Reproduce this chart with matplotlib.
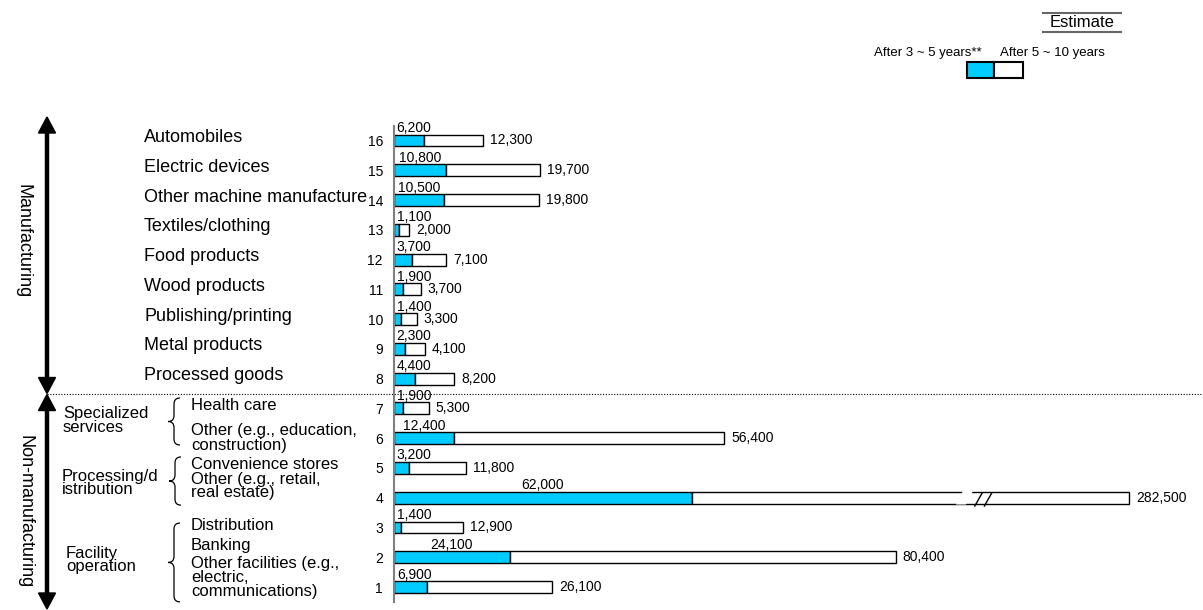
import numpy as np
import matplotlib
matplotlib.use('Agg')
import matplotlib.pyplot as plt
from matplotlib.path import Path
from matplotlib.patches import PathPatch, Rectangle, Polygon

plt.rcParams['font.family'] = ['Liberation Sans', 'DejaVu Sans']

# row numbers, top to bottom
row_ids = [16, 15, 14, 13, 12, 11, 10, 9, 8, 7, 6, 5, 4, 3, 2, 1]
# after 3 ~ 5 years (blue) and after 5 ~ 10 years (white, stacked on the blue)
near_term = [6200, 10800, 10500, 1100, 3700, 1900, 1400, 2300, 4400,
             1900, 12400, 3200, 62000, 1400, 24100, 6900]
long_term = [12300, 19700, 19800, 2000, 7100, 3700, 3300, 4100, 8200,
             5300, 56400, 11800, 282500, 12900, 80400, 26100]

manufacturing = ['Automobiles', 'Electric devices', 'Other machine manufacture',
                 'Textiles/clothing', 'Food products', 'Wood products',
                 'Publishing/printing', 'Metal products', 'Processed goods']

W, H = 1203, 610
BLUE = '#00CCFF'

# broken x axis: linear up to BREAK, squeezed after it
BREAK = 125000
SQUEEZE = 0.128
PX_PER_UNIT = 0.0048


def fwd(x):
    x = np.asarray(x, dtype=float)
    return np.where(x <= BREAK, x, BREAK + (x - BREAK) * SQUEEZE)


def inv(y):
    y = np.asarray(y, dtype=float)
    return np.where(y <= BREAK, y, BREAK + (y - BREAK) / SQUEEZE)


fig = plt.figure(figsize=(W / 100, H / 100), dpi=100)

# overlay in pixel coordinates for the side annotations
ov = fig.add_axes([0, 0, 1, 1], zorder=0)
ov.set_xlim(0, W)
ov.set_ylim(H, 0)
ov.axis('off')

x0_px, top_px, bot_px = 394, 125.6, 601.9
ax = fig.add_axes([x0_px / W, (H - bot_px) / H, (W - x0_px) / W, (bot_px - top_px) / H], zorder=1)
ax.patch.set_visible(False)
ax.set_xscale('function', functions=(fwd, inv))
ax.set_xlim(0, float(inv((W - x0_px) / PX_PER_UNIT)))
ax.set_ylim(0.5, 16.5)

ax.barh(row_ids, near_term, height=0.4, color=BLUE, edgecolor='black', linewidth=1)
ax.barh(row_ids, long_term, left=near_term, height=0.4, color='white',
        edgecolor='black', linewidth=1)

for r, a, b in zip(row_ids, near_term, long_term):
    ax.text(max(a / 2, 4200), r + 0.42, f'{a:,}', ha='center', va='center', fontsize=10)
    ax.annotate(f'{b:,}', xy=(a + b, r), xytext=(5, 0), textcoords='offset points',
                ha='left', va='center', fontsize=10, annotation_clip=False)

# break mark on the long bar (row 4)
ax.add_patch(Polygon([[117083, 3.77], [119167, 3.77], [120625, 4.23], [118542, 4.23]],
                     closed=True, facecolor='white', edgecolor='none', zorder=3))
for xs in (121000, 123000):
    ax.plot([xs, xs + 1500], [3.72, 4.15], color='black', lw=1, zorder=4)

ax.set_yticks(row_ids)
ax.set_yticklabels([str(r) for r in row_ids], fontsize=10)
ax.tick_params(axis='y', length=0, pad=8)
ax.set_xticks([])
ax.xaxis.set_minor_locator(matplotlib.ticker.NullLocator())
for s in ('top', 'right', 'bottom'):
    ax.spines[s].set_visible(False)
ax.spines['left'].set_color('#808080')
ax.spines['left'].set_linewidth(1.5)


def row_y(r):
    return ov.transData.inverted().transform(ax.transData.transform((0, r)))[1]


# manufacturing item labels
for r, name in zip(row_ids[:9], manufacturing):
    ov.text(144, row_y(r + 0.1), name, ha='left', va='center', fontsize=13)

# non-manufacturing item labels
items = [('Health care', 7.1, 0.95),
         ('Other (e.g., education,\nconstruction)', 6.0, 0.95),
         ('Convenience stores', 5.13, 0.95),
         ('Other (e.g., retail,\nreal estate)', 4.39, 0.85),
         ('Distribution', 3.06, 0.95),
         ('Banking', 2.41, 0.95),
         ('Other facilities (e.g.,\nelectric,\ncommunications)', 1.32, 0.9)]
for text, r, ls in items:
    ov.text(191, row_y(r), text, ha='left', va='center', fontsize=12, linespacing=ls)

groups = [('Specialized\nservices', 63, 6.59, 0.9),
          ('Processing/d\nistribution', 62, 4.5, 0.8),
          ('Facility\noperation', 66, 1.91, 0.9)]
for text, x, r, ls in groups:
    ov.text(x, row_y(r), text, ha='left', va='center', fontsize=12, linespacing=ls)


def brace(x, r0, r1, rad=6):
    y0, y1 = row_y(r0), row_y(r1)
    ym = (y0 + y1) / 2
    verts = [(x + rad, y0), (x, y0), (x, y0 + rad), (x, ym - rad), (x, ym), (x - rad, ym),
             (x, ym), (x, ym + rad), (x, y1 - rad), (x, y1), (x + rad, y1)]
    codes = [Path.MOVETO, Path.CURVE3, Path.CURVE3, Path.LINETO, Path.CURVE3, Path.CURVE3,
             Path.CURVE3, Path.CURVE3, Path.LINETO, Path.CURVE3, Path.CURVE3]
    ov.add_patch(PathPatch(Path(verts, codes), facecolor='none', edgecolor='black', lw=0.9))


brace(174, 7.35, 5.77)
brace(175, 5.37, 3.75)
brace(174, 3.15, 0.5)


def double_arrow(x, y0, y1, hl=16, hw=8.5):
    ov.plot([x, x], [y0 + hl - 1, y1 - hl + 1], color='black', lw=3.2, solid_capstyle='butt')
    ov.add_patch(Polygon([[x, y0], [x - hw, y0 + hl], [x + hw, y0 + hl]], color='black'))
    ov.add_patch(Polygon([[x, y1], [x - hw, y1 - hl], [x + hw, y1 - hl]], color='black'))


sep = row_y(7.5)
double_arrow(47, 117, sep)
double_arrow(47, sep + 1, 609)
ov.plot([47, W], [sep, sep], color='black', lw=0.8, linestyle=(0, (1, 1.5)))

ov.text(23, 241, 'Manufacturing', rotation=-90, ha='center', va='center', fontsize=13)
ov.text(25, 512, 'Non-manufacturing', rotation=-90, ha='center', va='center', fontsize=13)

# legend
ov.plot([1043, 1121], [13, 13], color='#666666', lw=1.5)
ov.plot([1043, 1121], [32, 32], color='#666666', lw=1.5)
ov.text(1082, 22.5, 'Estimate', ha='center', va='center', fontsize=12)
ov.text(982, 53, 'After 3 ~ 5 years**', ha='right', va='center', fontsize=9.5)
ov.text(1000, 53, 'After 5 ~ 10 years', ha='left', va='center', fontsize=9.5)
ov.add_patch(Rectangle((967, 62), 27, 16, facecolor=BLUE, edgecolor='black', lw=1.5))
ov.add_patch(Rectangle((994, 62), 29, 16, facecolor='white', edgecolor='black', lw=1.5))

fig.savefig('out.png', dpi=100)
